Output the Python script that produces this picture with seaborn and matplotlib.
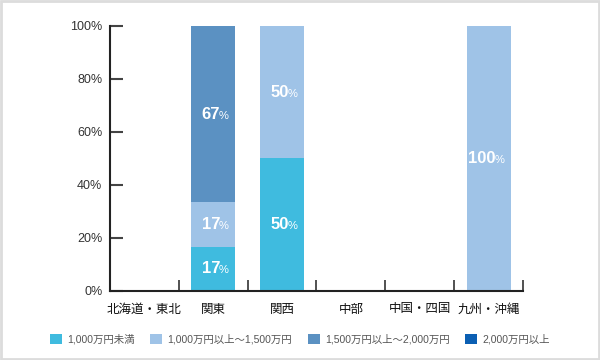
import matplotlib
matplotlib.use("Agg")
import matplotlib.pyplot as plt
from matplotlib.patches import Rectangle, Patch
import seaborn as sns
import pandas as pd
import numpy as np

regions = ["北海道・東北", "関東", "関西", "中部", "中国・四国", "九州・沖縄"]
series_names = ["1,000万円未満", "1,000万円以上～1,500万円",
                "1,500万円以上～2,000万円", "2,000万円以上"]
under_1000 = [0, 16.7, 50, 0, 0, 0]
from_1000_1500 = [0, 16.7, 50, 0, 0, 100]
from_1500_2000 = [0, 66.6, 0, 0, 0, 0]
over_2000 = [0, 0, 0, 0, 0, 0]
colors = ["#3fbbdf", "#9fc3e7", "#5b91c2", "#0b5fb3"]
y_ticks = [0, 20, 40, 60, 80, 100]

df = pd.DataFrame({"region": regions,
                   series_names[0]: under_1000,
                   series_names[1]: from_1000_1500,
                   series_names[2]: from_1500_2000,
                   series_names[3]: over_2000})

sns.set_style("white")
plt.rcParams["font.family"] = ["Liberation Sans", "Noto Sans CJK JP", "DejaVu Sans"]
plt.rcParams["xtick.direction"] = "in"
plt.rcParams["ytick.direction"] = "in"

fig = plt.figure(figsize=(6, 3.6), dpi=100)
ax = fig.add_axes([0.1833, 0.1917, 0.6884, 0.7361])

bottom = np.zeros(len(regions))
for name, col in zip(series_names, colors):
    vals = df[name].to_numpy()
    sns.barplot(x=df["region"], y=vals, bottom=bottom, color=col,
                width=0.64, ax=ax, linewidth=0, saturation=1)
    for i, (v, b) in enumerate(zip(vals, bottom)):
        if v > 0:
            yc = b + v / 2
            ax.annotate(f"{round(v)}", (i, yc), xytext=(5, 0), textcoords="offset points",
                        ha="right", va="center", color="white", fontsize=12,
                        fontweight="bold")
            ax.annotate("%", (i, yc), xytext=(4, -1), textcoords="offset points",
                        ha="left", va="center", color="white", fontsize=8)
    bottom = bottom + vals

ax.set_xlim(-0.5, len(regions) - 0.5)
ax.set_ylim(0, 100)
ax.set_yticks(y_ticks)
ax.set_yticklabels([f"{t}%" for t in y_ticks], fontsize=9, color="#333333")
ax.set_xticks(range(len(regions)))
ax.set_xticklabels(regions, fontsize=9, color="#111111")
ax.set_xticks(np.arange(0.5, len(regions)), minor=True)
ax.tick_params(axis="x", which="major", bottom=False, length=0, pad=9)
ax.tick_params(axis="x", which="minor", bottom=True, direction="in", length=8,
               width=1.2, color="#333333")
ax.tick_params(axis="y", left=True, direction="in", length=9, width=1.5,
               color="#444444", pad=5.5)
ax.set_xlabel("")
ax.set_ylabel("")
for side in ["top", "right"]:
    ax.spines[side].set_visible(False)
for side in ["left", "bottom"]:
    ax.spines[side].set_color("#222222")
    ax.spines[side].set_linewidth(1.5)

handles = [Patch(facecolor=c, edgecolor="none") for c in colors]
leg = fig.legend(handles, series_names, loc="center", bbox_to_anchor=(0.5, 0.058),
                 ncol=4, frameon=False, fontsize=7.5, handlelength=1.15, handleheight=1.15,
                 handletextpad=0.5, columnspacing=1.5)
for t in leg.get_texts():
    t.set_color("#555555")

fig.patches.append(Rectangle((0.0015, 0.0025), 0.997, 0.995, transform=fig.transFigure,
                             fill=False, edgecolor="#dcdcdc", linewidth=2))

fig.savefig("out.png", dpi=100)
